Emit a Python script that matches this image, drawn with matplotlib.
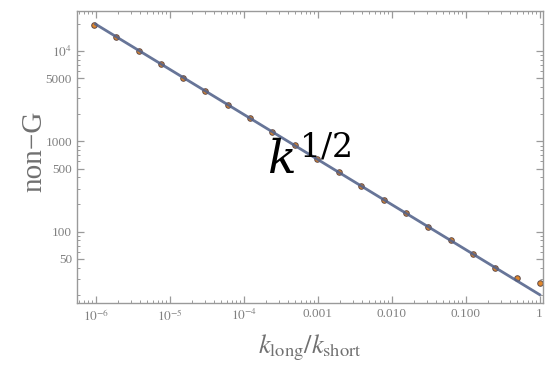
import matplotlib
matplotlib.use("Agg")
import matplotlib.pyplot as plt
import numpy as np
from matplotlib.ticker import FixedLocator, LogLocator, NullFormatter

# Ratio k_long / k_short, halving from 1 down to ~1e-6
k_ratio = [2.0 ** -n for n in range(20, -1, -1)]
non_g = [19500, 14300, 10200, 7250, 5120, 3620, 2560, 1810, 1280, 905,
         640, 453, 320, 226, 160, 113, 80, 57, 40, 30.5, 27.0]

# Power-law fit: non-G = A * k^(-1/2)
fit_amp = 20.0
fit_exp = -0.5
fit_range = [1e-6, 1.0]

xticks = [1e-6, 1e-5, 1e-4, 1e-3, 1e-2, 1e-1, 1]
xticklabels = [r"$10^{-6}$", r"$10^{-5}$", r"$10^{-4}$", "0.001", "0.010", "0.100", "1"]
yticks = [50, 100, 500, 1000, 5000, 1e4]
yticklabels = ["50", "100", "500", "1000", "5000", r"$10^{4}$"]

plt.rcParams["mathtext.fontset"] = "stix"
plt.rcParams["font.family"] = ["Liberation Serif", "DejaVu Serif"]

fig = plt.figure(figsize=(5.46, 3.67), dpi=100)
ax = fig.add_axes([0.141, 0.174, 0.854, 0.796])
ax.set_xscale("log")
ax.set_yscale("log")

ax.plot(k_ratio, non_g, "o", mfc="#e0862a", mec="#5e4a4a", mew=0.7,
        ms=4.0, zorder=2)
kf = np.logspace(np.log10(fit_range[0]), np.log10(fit_range[1]), 200)
ax.plot(kf, fit_amp * kf ** fit_exp, color="#52628a", lw=2.0, alpha=0.88,
        zorder=3)

ax.set_xlim(5.6e-7, 1.12)
ax.set_ylim(16.1, 28000)

frame_c = "#9a9a9a"
for s in ax.spines.values():
    s.set_color(frame_c)
    s.set_linewidth(1.0)

ax.xaxis.set_major_locator(FixedLocator(xticks))
ax.set_xticklabels(xticklabels)
ax.yaxis.set_major_locator(FixedLocator(yticks))
ax.set_yticklabels(yticklabels)
ax.xaxis.set_minor_locator(LogLocator(base=10, subs=np.arange(2, 10)))
ax.yaxis.set_minor_locator(LogLocator(base=10, subs=np.arange(2, 10)))
ax.xaxis.set_minor_formatter(NullFormatter())
ax.yaxis.set_minor_formatter(NullFormatter())

ax.tick_params(which="both", direction="in", top=True, right=True,
               color=frame_c, labelcolor="#808080", labelsize=9.5)
ax.tick_params(which="major", length=5, width=0.9)
ax.tick_params(which="minor", length=2.5, width=0.7)

ax.set_ylabel("non\u2212G", fontsize=21, color="#707070")
ax.yaxis.set_label_coords(-0.064, 0.52)
ax.set_xlabel(r"$k_{\mathrm{long}}/k_{\mathrm{short}}$", fontsize=19,
              color="#707070", labelpad=6)

ax.text(0.497, 0.485, r"$k^{1/2}$", transform=ax.transAxes, fontsize=34,
        ha="center", va="center", color="black", zorder=5,
        math_fontfamily="dejavuserif")

fig.savefig("out.png", dpi=100, facecolor="white")
